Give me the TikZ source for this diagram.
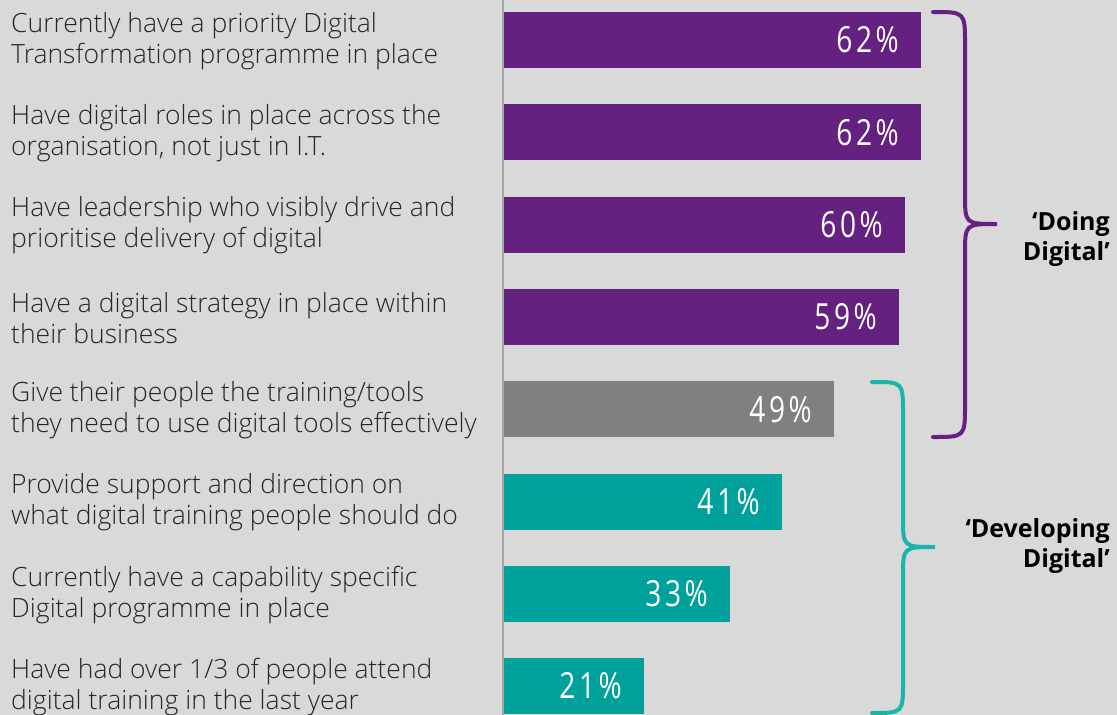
\documentclass[tikz,border=0pt]{standalone}
\usepackage{fontspec}
\setmainfont{Open Sans}[UprightFont=* Light, BoldFont=* Bold]
\newfontfamily\pctfont{Open Sans}[FakeStretch=0.78, LetterSpace=10]
\newfontfamily\grpfont{Open Sans}[UprightFont=* Bold]
\definecolor{bgc}{HTML}{D9D9D9}
\definecolor{purp}{HTML}{642180}
\definecolor{teal}{HTML}{00A19A}
\definecolor{tealbr}{HTML}{19B5AA}
\definecolor{greybar}{HTML}{808080}
\definecolor{axisc}{HTML}{A6A6A6}
\definecolor{labc}{HTML}{262626}
\begin{document}
\begin{tikzpicture}[x=1pt,y=-1pt,
  bar/.style={draw=none, inner sep=0pt, outer sep=0pt, minimum height=56pt, anchor=north west},
  pct/.style={anchor=east, text=white, inner sep=0pt, font=\pctfont\fontsize{36}{38}\selectfont},
  lab/.style={anchor=west, align=left, text=labc, inner sep=0pt, font=\fontsize{26.5}{31}\selectfont},
  grp/.style={anchor=east, align=right, text=black, inner sep=0pt, font=\grpfont\fontsize{25}{30}\selectfont},
  brace/.style={line width=4pt, line cap=round}]
\fill[bgc] (0,0) rectangle (1117,715);
\useasboundingbox (0,0) rectangle (1117,715);
% bars
\node[bar, fill=purp, minimum width=418pt] (b1) at (503,12) {};
\node[bar, fill=purp, minimum width=418pt] (b2) at (503,104.3) {};
\node[bar, fill=purp, minimum width=402pt] (b3) at (503,196.6) {};
\node[bar, fill=purp, minimum width=396pt] (b4) at (503,288.9) {};
\node[bar, fill=greybar, minimum width=331pt] (b5) at (503,381.2) {};
\node[bar, fill=teal, minimum width=279pt] (b6) at (503,473.5) {};
\node[bar, fill=teal, minimum width=227pt] (b7) at (503,565.8) {};
\node[bar, fill=teal, minimum width=141pt] (b8) at (503,658.1) {};
% axis
\coordinate (axtop) at (503,0);
\coordinate (axbot) at (503,715);
\draw[axisc, line width=1.5pt] (axtop) -- (axbot);
% percentages
\node[pct] (p1) at ([xshift=-22pt]b1.east) {62\%};
\node[pct] (p2) at ([xshift=-22pt]b2.east) {62\%};
\node[pct] (p3) at ([xshift=-22pt]b3.east) {60\%};
\node[pct] (p4) at ([xshift=-22pt]b4.east) {59\%};
\node[pct] (p5) at ([xshift=-22pt]b5.east) {49\%};
\node[pct] (p6) at ([xshift=-22pt]b6.east) {41\%};
\node[pct] (p7) at ([xshift=-22pt]b7.east) {33\%};
\node[pct] (p8) at ([xshift=-22pt]b8.east) {21\%};
% labels
\node[lab] (l1) at (11,41) {Currently have a priority Digital\\Transformation programme in place};
\node[lab] (l2) at (11,133.3) {Have digital roles in place across the\\organisation, not just in I.T.};
\node[lab] (l3) at (11,225.6) {Have leadership who visibly drive and\\prioritise delivery of digital};
\node[lab] (l4) at (11,317.9) {Have a digital strategy in place within\\their business};
\node[lab] (l5) at (11,410.2) {Give their people the training/tools\\they need to use digital tools effectively};
\node[lab] (l6) at (11,502.5) {Provide support and direction on\\what digital training people should do};
\node[lab] (l7) at (11,594.8) {Currently have a capability specific\\Digital programme in place};
\node[lab] (l8) at (11,687.1) {Have had over 1/3 of people attend\\digital training in the last year};
% braces
\coordinate (pt) at (933,12);
\coordinate (pb) at (933,437);
\coordinate (ptip) at (997,224);
\draw[brace, purp] (pt) .. controls (965,12) .. (965,44) -- (965,194)
  .. controls (965,224) .. (ptip) .. controls (965,224) .. (965,254) -- (965,405)
  .. controls (965,437) .. (pb);
\coordinate (tt) at (872,382);
\coordinate (tb) at (872,713);
\coordinate (ttip) at (935,547);
\draw[brace, tealbr] (tt) .. controls (903,382) .. (903,413) -- (903,517)
  .. controls (903,547) .. (ttip) .. controls (903,547) .. (903,577) -- (903,682)
  .. controls (903,713) .. (tb);
\node[grp] (g1) at (1110,239) {‘Doing\\Digital’};
\node[grp] (g2) at (1110,546) {‘Developing\\Digital’};
\end{tikzpicture}
\end{document}
